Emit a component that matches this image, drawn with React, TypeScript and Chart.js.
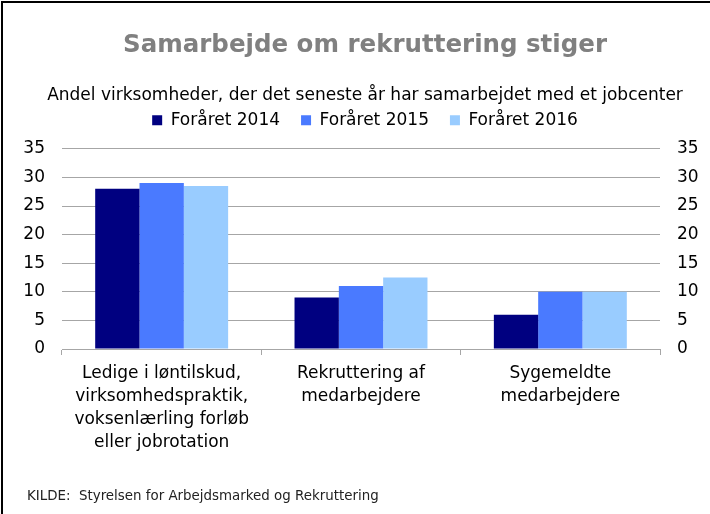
import React, { useEffect, useRef } from "react";
import { Chart, registerables } from "chart.js";

Chart.register(...registerables);

const categories: string[][] = [
  ["Ledige i løntilskud,", "virksomhedspraktik,", "voksenlærling forløb", "eller jobrotation"],
  ["Rekruttering af", "medarbejdere"],
  ["Sygemeldte", "medarbejdere"],
];
const series2014: number[] = [28, 9, 6];
const series2015: number[] = [29, 11, 10];
const series2016: number[] = [28.5, 12.5, 10];
const seriesNames: string[] = ["Foråret 2014", "Foråret 2015", "Foråret 2016"];
const seriesColors: string[] = ["#000080", "#4A7AFF", "#99CCFF"];
const titleText = "Samarbejde om rekruttering stiger";
const subtitleText = "Andel virksomheder, der det seneste år har samarbejdet med et jobcenter";
const sourceText = "KILDE:  Styrelsen for Arbejdsmarked og Rekruttering";
const yMin = 0;
const yMax = 35;
const yStep = 5;

const FONT = "'DejaVu Sans', Verdana, sans-serif";

export default function App() {
  const ref = useRef<HTMLCanvasElement | null>(null);

  useEffect(() => {
    if (!ref.current) return;
    const framePlugin = {
      id: "frame",
      beforeLayout(chart: any) {
        const lg = chart.legend;
        if (lg && !lg.__patched) {
          const orig = lg.fit;
          lg.fit = function () {
            orig.call(this);
            this.height += 10;
          };
          lg.__patched = true;
        }
      },
      afterDraw(chart: any) {
        const ctx = chart.ctx;
        ctx.save();
        ctx.fillStyle = "#000";
        ctx.fillRect(1, 1, 2, 514);
        ctx.fillRect(1, 1, 710, 2);
        ctx.fillStyle = "#222";
        ctx.font = `13.4px ${FONT}`;
        ctx.textBaseline = "middle";
        ctx.textAlign = "left";
        ctx.fillText(sourceText, 27, 497);
        ctx.restore();
      },
    };
    const data = {
      labels: categories,
      datasets: [series2014, series2015, series2016].map((d, i) => ({
        label: seriesNames[i],
        data: d,
        backgroundColor: seriesColors[i],
        borderWidth: 0,
        categoryPercentage: 0.667,
        barPercentage: 1.0,
        yAxisID: "y",
      })),
    };
    const chart = new Chart(ref.current, {
      type: "bar",
      data,
      plugins: [framePlugin],
      options: {
        responsive: false,
        animation: false,
        layout: { padding: { top: 0, bottom: 53, left: 20, right: 0 } },
        plugins: {
          tooltip: { enabled: false },
          title: {
            display: true,
            text: titleText,
            color: "#808080",
            font: { family: FONT, size: 24.5, weight: "bold" },
            padding: { top: 31, bottom: 25 },
          },
          subtitle: {
            display: true,
            text: subtitleText,
            color: "#000",
            font: { family: FONT, size: 17 },
            padding: { top: 0, bottom: -15 },
          },
          legend: {
            display: true,
            position: "top",
            labels: {
              boxWidth: 10,
              boxHeight: 10,
              padding: 21,
              color: "#000",
              font: { family: FONT, size: 17 },
            },
          },
        },
        scales: {
          x: {
            type: "category",
            grid: { drawOnChartArea: false, drawTicks: true, tickLength: 6, color: "#a6a6a6", offset: true },
            border: { display: true, color: "#a6a6a6" },
            ticks: {
              color: "#000",
              font: { family: FONT, size: 17, lineHeight: 23 / 17 },
              padding: 7,
              maxRotation: 0,
              autoSkip: false,
            },
          },
          y: {
            position: "left",
            min: yMin,
            max: yMax,
            afterFit: (s: any) => { s.width = 42; },
            grid: { drawTicks: false, color: "#a6a6a6" },
            border: { display: false },
            ticks: { stepSize: yStep, padding: 17, color: "#000", font: { family: FONT, size: 17 } },
          },
          y2: {
            position: "right",
            min: yMin,
            max: yMax,
            afterFit: (s: any) => { s.width = 50; },
            grid: { display: false, drawTicks: false },
            border: { display: false },
            ticks: { stepSize: yStep, padding: 17, color: "#000", font: { family: FONT, size: 17 } },
          },
        },
      },
    });
    return () => chart.destroy();
  }, []);

  return (
    <div style={{ position: "absolute", left: 0, top: 0, width: 710, height: 514, background: "#fff" }}>
      <canvas ref={ref} width={710} height={514} style={{ width: 710, height: 514, display: "block" }} />
    </div>
  );
}
